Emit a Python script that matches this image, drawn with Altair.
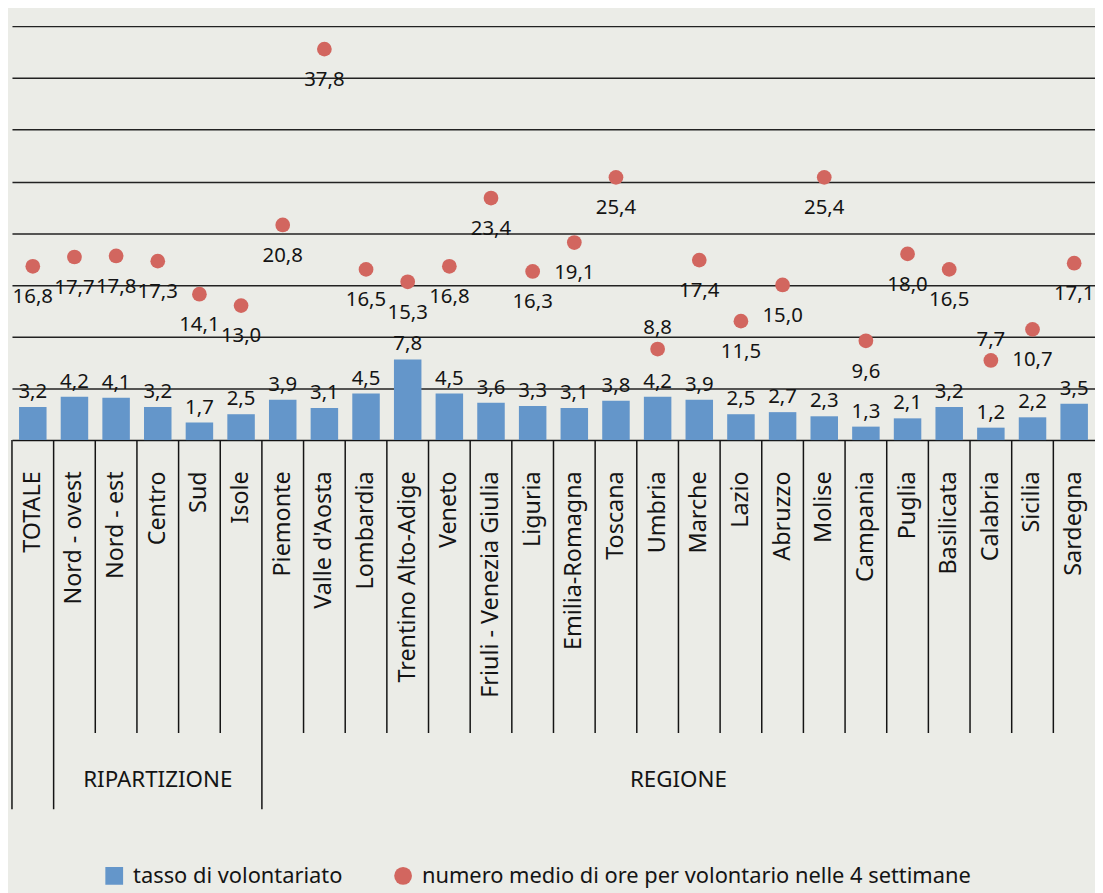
import altair as alt
import pandas as pd

categories = ["TOTALE", "Nord - ovest", "Nord - est", "Centro", "Sud", "Isole",
              "Piemonte", "Valle d'Aosta", "Lombardia", "Trentino Alto-Adige", "Veneto",
              "Friuli - Venezia Giulia", "Liguria", "Emilia-Romagna", "Toscana", "Umbria",
              "Marche", "Lazio", "Abruzzo", "Molise", "Campania", "Puglia", "Basilicata",
              "Calabria", "Sicilia", "Sardegna"]
tasso = [3.2, 4.2, 4.1, 3.2, 1.7, 2.5, 3.9, 3.1, 4.5, 7.8, 4.5, 3.6, 3.3, 3.1, 3.8, 4.2,
         3.9, 2.5, 2.7, 2.3, 1.3, 2.1, 3.2, 1.2, 2.2, 3.5]
ore = [16.8, 17.7, 17.8, 17.3, 14.1, 13.0, 20.8, 37.8, 16.5, 15.3, 16.8, 23.4, 16.3, 19.1,
       25.4, 8.8, 17.4, 11.5, 15.0, 25.4, 9.6, 18.0, 16.5, 7.7, 10.7, 17.1]
group_starts = ["TOTALE", "Nord - ovest", "Piemonte"]
labels_above = ["Umbria", "Calabria"]
series_names = ["tasso di volontariato", "numero medio di ore per volontario nelle 4 settimane"]

BLUE = "#6496CA"
RED = "#D2665F"
BG = "#EBECE7"
INK = "#141414"

def fmt(v):
    return f"{v:.1f}".replace(".", ",")

df = pd.DataFrame({
    "cat": categories,
    "tasso": tasso,
    "ore": ore,
    "tasso_lbl": [fmt(v) for v in tasso],
    "ore_lbl": [fmt(v) for v in ore],
    "sep": ["long" if c in group_starts else "short" for c in categories],
    "pos": ["above" if c in labels_above else "below" for c in categories],
    "s1": series_names[0],
    "s2": series_names[1],
})

H = 422
W = 1091

xenc = alt.X("cat:N", sort=categories,
             scale=alt.Scale(paddingInner=0, paddingOuter=0),
             axis=alt.Axis(title=None, labelAngle=-90, labelPadding=31, labelFontSize=23.5,
                           labelFont="Noto Sans", labelColor=INK, ticks=False,
                           domain=True, domainColor=INK, domainWidth=1.5, labelLimit=400))
yscale = alt.Scale(domain=[0, 40.5], nice=False)
yaxis = alt.Axis(title=None, labels=False, ticks=False, domain=False, grid=True,
                 gridColor="#222222", gridWidth=1.5, values=[5, 10, 15, 20, 25, 30, 35, 40])

base = alt.Chart(df)

legend_common = dict(title=None, orient="none", legendY=850, symbolSize=320,
                     labelFontSize=22, labelFont="Noto Sans", labelColor=INK,
                     labelOffset=8, labelLimit=900)

bars = base.mark_bar(width=alt.RelativeBandSize(0.66)).encode(
    x=xenc,
    y=alt.Y("tasso:Q", scale=yscale, axis=yaxis),
    color=alt.Color("s1:N", scale=alt.Scale(domain=[series_names[0]], range=[BLUE]),
                    legend=alt.Legend(legendX=92, symbolType="square", **legend_common)),
)

bar_text = base.mark_text(font="Noto Sans", fontSize=20.5, color=INK, baseline="alphabetic", dy=-9).encode(
    x=alt.X("cat:N", sort=categories),
    y=alt.Y("tasso:Q"),
    text="tasso_lbl:N",
)

dots = base.mark_circle(size=220, opacity=1).encode(
    x=alt.X("cat:N", sort=categories),
    y=alt.Y("ore:Q"),
    fill=alt.Fill("s2:N", scale=alt.Scale(domain=[series_names[1]], range=[RED]),
                  legend=alt.Legend(legendX=383, symbolType="circle", **legend_common)),
)

dot_text_below = base.transform_filter(alt.datum.pos == "below").mark_text(
    font="Noto Sans", fontSize=20.5, color=INK, baseline="middle", dy=31).encode(
    x=alt.X("cat:N", sort=categories),
    y=alt.Y("ore:Q"),
    text="ore_lbl:N",
)
dot_text_above = base.transform_filter(alt.datum.pos == "above").mark_text(
    font="Noto Sans", fontSize=20.5, color=INK, baseline="middle", dy=-21).encode(
    x=alt.X("cat:N", sort=categories),
    y=alt.Y("ore:Q"),
    text="ore_lbl:N",
)

sep_short = base.transform_filter(alt.datum.sep == "short").mark_rule(color=INK, strokeWidth=1.5).encode(
    x=alt.X("cat:N", sort=categories, bandPosition=0),
    y=alt.value(H),
    y2=alt.value(H + 295),
)
sep_long = base.transform_filter(alt.datum.sep == "long").mark_rule(color=INK, strokeWidth=1.5).encode(
    x=alt.X("cat:N", sort=categories, bandPosition=0),
    y=alt.value(H),
    y2=alt.value(H + 372),
)

grp1 = base.transform_filter(alt.datum.cat == "Centro").mark_text(
    font="Noto Sans", fontSize=22.5, color=INK, baseline="middle").encode(
    x=alt.X("cat:N", sort=categories, bandPosition=0.5),
    y=alt.value(H + 342),
    text=alt.value("RIPARTIZIONE"),
)
grp2 = base.transform_filter(alt.datum.cat == "Marche").mark_text(
    font="Noto Sans", fontSize=22.5, color=INK, baseline="middle").encode(
    x=alt.X("cat:N", sort=categories, bandPosition=0),
    y=alt.value(H + 342),
    text=alt.value("REGIONE"),
)

chart = alt.layer(
    bars, bar_text, dots, dot_text_below, dot_text_above, sep_short, sep_long, grp1, grp2
).properties(
    width=W, height=H,
    background=BG,
    padding={"left": 4, "top": 10, "right": 0, "bottom": 453},
    autosize=alt.AutoSizeParams(type="none"),
).configure_view(stroke=None)

chart.save("out.html", embed_options={"renderer": "svg", "actions": False})
